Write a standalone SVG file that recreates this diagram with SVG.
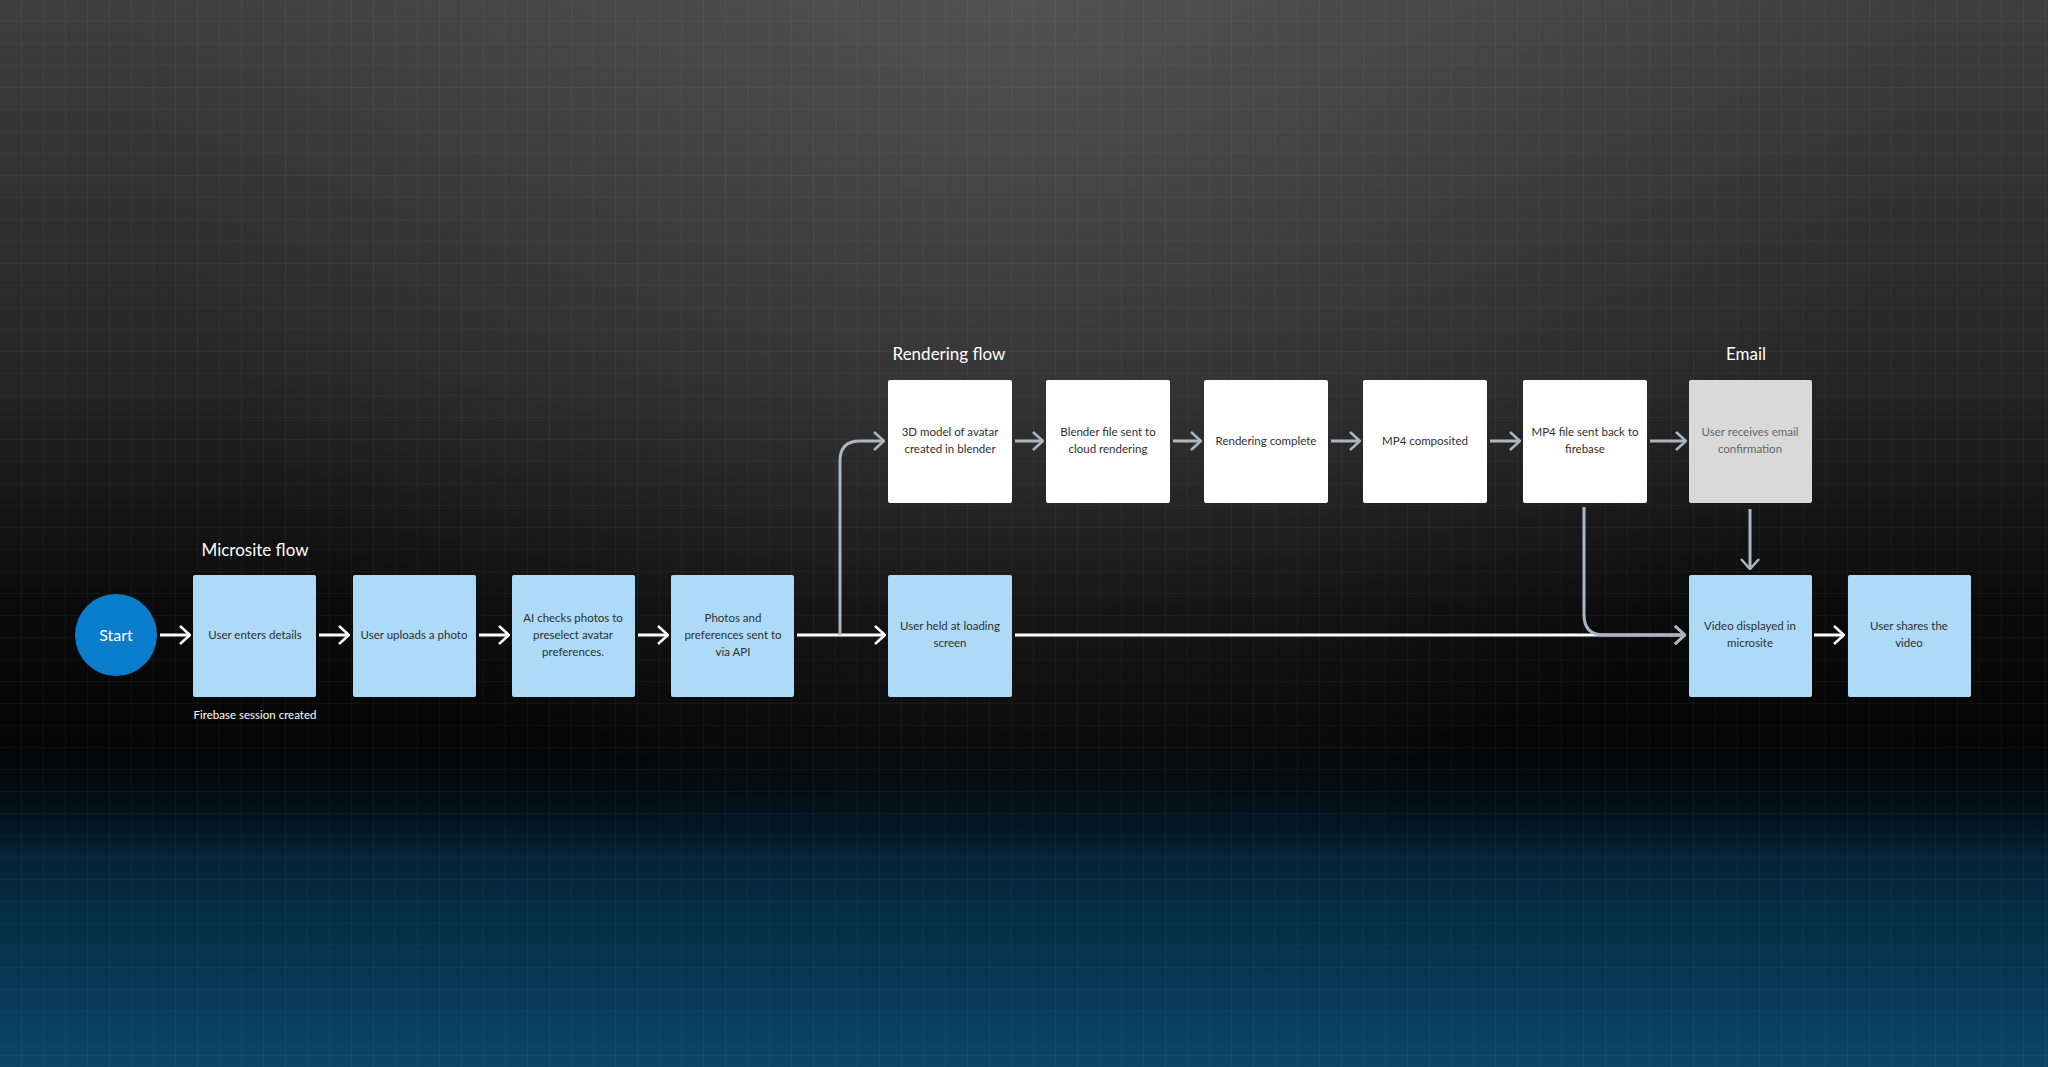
<svg xmlns="http://www.w3.org/2000/svg" width="2048" height="1067" viewBox="0 0 2048 1067">
<defs>
<linearGradient id="lin" x1="0" y1="0" x2="0" y2="820" gradientUnits="userSpaceOnUse">
<stop offset="0" stop-color="#3e3e3e"/><stop offset="0.45" stop-color="#262626"/><stop offset="0.75" stop-color="#0a0a0a"/><stop offset="1" stop-color="#020202"/>
</linearGradient>
<radialGradient id="top" cx="1024" cy="0" r="900" gradientUnits="userSpaceOnUse">
<stop offset="0" stop-color="#777777" stop-opacity="0.35"/><stop offset="1" stop-color="#777777" stop-opacity="0"/>
</radialGradient>
<linearGradient id="bot" x1="0" y1="740" x2="0" y2="1067" gradientUnits="userSpaceOnUse">
<stop offset="0" stop-color="#021018" stop-opacity="0"/><stop offset="0.35" stop-color="#042336"/><stop offset="1" stop-color="#0a4669"/>
</linearGradient>
<pattern id="grid" width="22" height="22" patternUnits="userSpaceOnUse">
<path d="M22 0V22M0 22H22" fill="none" stroke="#ffffff" stroke-opacity="0.07" stroke-width="1"/>
</pattern>
<marker id="aw" viewBox="0 0 12 20" refX="11" refY="10" markerWidth="12" markerHeight="20" markerUnits="userSpaceOnUse" orient="auto">
<path d="M1 1L11 10L1 19" fill="none" stroke="#ffffff" stroke-width="2.5"/>
</marker>
<marker id="ag" viewBox="0 0 12 20" refX="11" refY="10" markerWidth="12" markerHeight="20" markerUnits="userSpaceOnUse" orient="auto">
<path d="M1 1L11 10L1 19" fill="none" stroke="#aab6c2" stroke-width="2.5"/>
</marker>
</defs>
<style>
.b{fill:#acdaf7}.w{fill:#ffffff}.g{fill:#d9d9d9}
.t{font-family:Lato,"Open Sans",sans-serif;font-size:11.5px;fill:#2f2f2f;text-anchor:middle}
.h{font-family:Lato,"Open Sans",sans-serif;font-size:17px;fill:#ffffff;text-anchor:middle}
.lw{fill:none;stroke:#ffffff;stroke-width:3}
.lg{fill:none;stroke:#aab6c2;stroke-width:3}
</style>
<rect width="2048" height="1067" fill="#020202"/>
<rect width="2048" height="820" fill="url(#lin)"/>
<rect width="2048" height="820" fill="url(#top)"/>
<path d="M0 750Q1024 690 2048 750V1067H0Z" fill="url(#bot)"/>
<rect width="2048" height="1067" fill="url(#grid)"/>
<text class="h" x="255" y="556">Microsite flow</text>
<text class="h" x="949" y="360">Rendering flow</text>
<text class="h" x="1746" y="360">Email</text>
<text class="t" x="255" y="719" style="fill:#fff">Firebase session created</text>
<g id="connectors">
<path class="lw" d="M160 635H190" marker-end="url(#aw)"/>
<path class="lw" d="M319 635H349" marker-end="url(#aw)"/>
<path class="lw" d="M479 635H509" marker-end="url(#aw)"/>
<path class="lw" d="M638 635H668" marker-end="url(#aw)"/>
<path class="lw" d="M797 635H885" marker-end="url(#aw)"/>
<path class="lg" d="M840 635V461Q840 441 860 441H884" marker-end="url(#ag)"/>
<path class="lg" d="M1015 441H1043" marker-end="url(#ag)"/>
<path class="lg" d="M1173 441H1201" marker-end="url(#ag)"/>
<path class="lg" d="M1331 441H1360" marker-end="url(#ag)"/>
<path class="lg" d="M1490 441H1520" marker-end="url(#ag)"/>
<path class="lg" d="M1650 441H1686" marker-end="url(#ag)"/>
<path class="lw" d="M1015 635H1685" marker-end="url(#aw)"/>
<path class="lg" d="M1584 507V615Q1584 635 1604 635H1685" marker-end="url(#ag)"/>
<path class="lg" d="M1750 509V569" marker-end="url(#ag)"/>
<path class="lw" d="M1814 635H1844" marker-end="url(#aw)"/>
</g>
<g id="start"><circle cx="116" cy="635" r="41" fill="#0a7ccc"/><text class="h" x="116" y="641" style="font-size:16px">Start</text></g>
<g id="n1"><rect class="b" x="193" y="575" width="123" height="122" rx="2"/><text class="t" x="255" y="639">User enters details</text></g>
<g id="n2"><rect class="b" x="353" y="575" width="123" height="122" rx="2"/><text class="t" x="414" y="639">User uploads a photo</text></g>
<g id="n3"><rect class="b" x="512" y="575" width="123" height="122" rx="2"/><text class="t" x="573" y="622">AI checks photos to</text><text class="t" x="573" y="639">preselect avatar</text><text class="t" x="573" y="656">preferences.</text></g>
<g id="n4"><rect class="b" x="671" y="575" width="123" height="122" rx="2"/><text class="t" x="733" y="622">Photos and</text><text class="t" x="733" y="639">preferences sent to</text><text class="t" x="733" y="656">via API</text></g>
<g id="n5"><rect class="b" x="888" y="575" width="124" height="122" rx="2"/><text class="t" x="950" y="630">User held at loading</text><text class="t" x="950" y="647">screen</text></g>
<g id="r1"><rect class="w" x="888" y="380" width="124" height="123" rx="2"/><text class="t" x="950" y="436">3D model of avatar</text><text class="t" x="950" y="453">created in blender</text></g>
<g id="r2"><rect class="w" x="1046" y="380" width="124" height="123" rx="2"/><text class="t" x="1108" y="436">Blender file sent  to</text><text class="t" x="1108" y="453">cloud rendering</text></g>
<g id="r3"><rect class="w" x="1204" y="380" width="124" height="123" rx="2"/><text class="t" x="1266" y="445">Rendering complete</text></g>
<g id="r4"><rect class="w" x="1363" y="380" width="124" height="123" rx="2"/><text class="t" x="1425" y="445">MP4 composited</text></g>
<g id="r5"><rect class="w" x="1523" y="380" width="124" height="123" rx="2"/><text class="t" x="1585" y="436">MP4 file sent back to</text><text class="t" x="1585" y="453">firebase</text></g>
<g id="e1"><rect class="g" x="1689" y="380" width="123" height="123" rx="2"/><text class="t" x="1750" y="436" style="fill:#666">User receives email</text><text class="t" x="1750" y="453" style="fill:#666">confirmation</text></g>
<g id="n6"><rect class="b" x="1689" y="575" width="123" height="122" rx="2"/><text class="t" x="1750" y="630">Video displayed in</text><text class="t" x="1750" y="647">microsite</text></g>
<g id="n7"><rect class="b" x="1848" y="575" width="123" height="122" rx="2"/><text class="t" x="1909" y="630">User shares the</text><text class="t" x="1909" y="647">video</text></g>
</svg>
